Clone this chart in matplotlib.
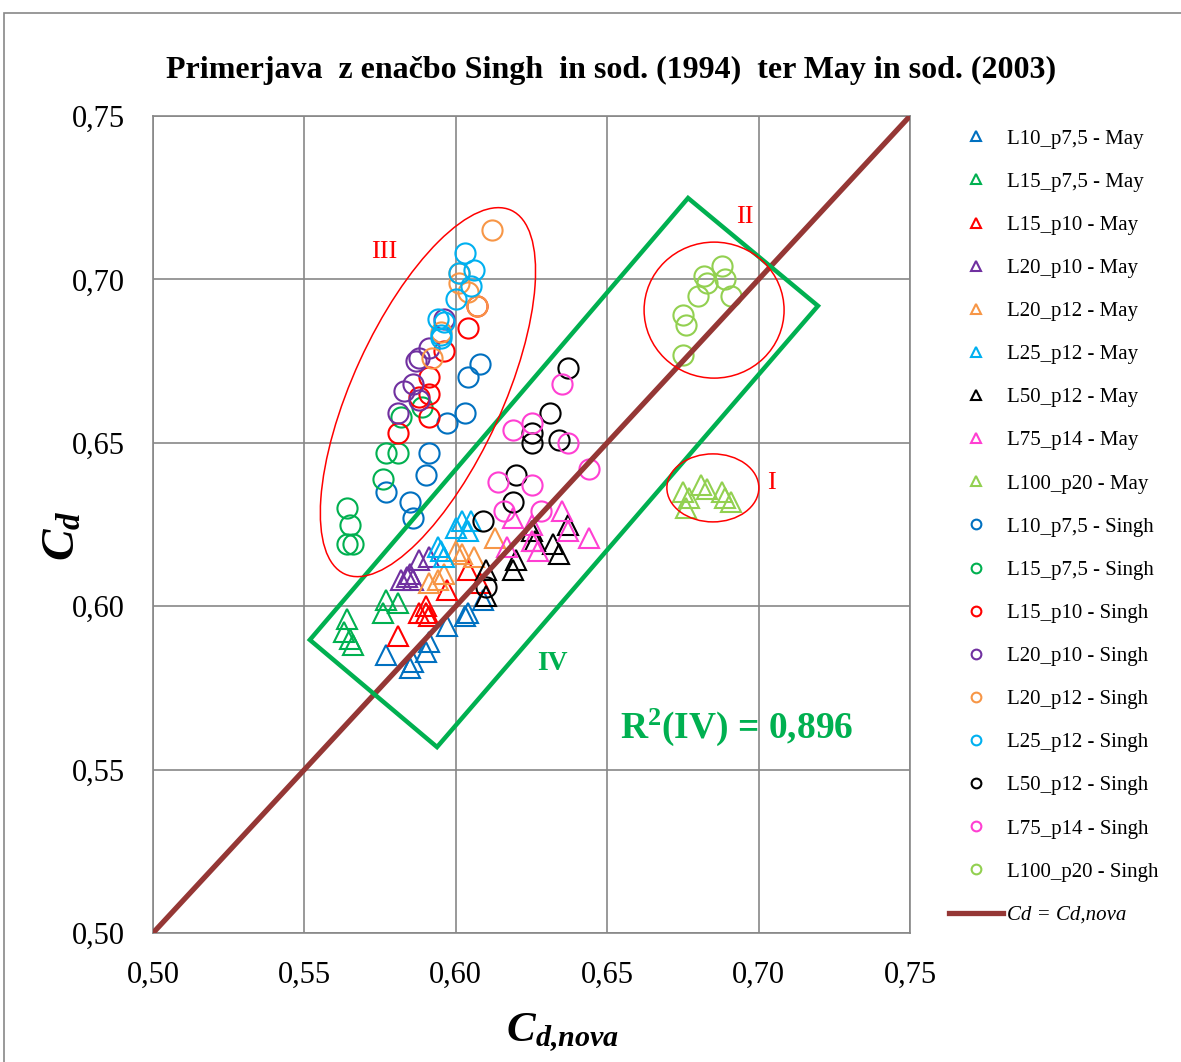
import matplotlib
matplotlib.use('Agg')
import matplotlib.pyplot as plt
import matplotlib.transforms as mtransforms
from matplotlib.patches import Ellipse, Rectangle, Polygon
from matplotlib.lines import Line2D

plt.rcParams['font.family'] = ['Liberation Serif', 'DejaVu Serif']
plt.rcParams['mathtext.fontset'] = 'custom'
plt.rcParams['mathtext.rm'] = 'Liberation Serif'
plt.rcParams['mathtext.it'] = 'Liberation Serif:italic'
plt.rcParams['mathtext.bf'] = 'Liberation Serif:bold'
plt.rcParams['mathtext.bfit'] = 'Liberation Serif:italic:bold'

# ---- data: (Cd,nova, Cd) per series ----
may_L10_p7_5 = ([0.577, 0.585, 0.586, 0.590, 0.591, 0.597, 0.603, 0.604, 0.609],
                [0.585, 0.581, 0.583, 0.586, 0.589, 0.594, 0.597, 0.598, 0.602])
may_L15_p7_5 = ([0.564, 0.563, 0.565, 0.566, 0.576, 0.577, 0.581],
                [0.596, 0.592, 0.590, 0.588, 0.598, 0.602, 0.601])
may_L15_p10 = ([0.581, 0.588, 0.590, 0.591, 0.590, 0.597, 0.604, 0.608],
               [0.591, 0.598, 0.598, 0.597, 0.600, 0.605, 0.611, 0.607])
may_L20_p10 = ([0.582, 0.584, 0.585, 0.588, 0.586, 0.591],
               [0.608, 0.609, 0.610, 0.614, 0.608, 0.615])
may_L20_p12 = ([0.591, 0.594, 0.596, 0.600, 0.602, 0.606, 0.613],
               [0.607, 0.608, 0.610, 0.617, 0.616, 0.615, 0.621])
may_L25_p12 = ([0.594, 0.595, 0.596, 0.600, 0.602, 0.605, 0.604],
               [0.618, 0.617, 0.615, 0.624, 0.626, 0.626, 0.623])
may_L50_p12 = ([0.637, 0.632, 0.634, 0.625, 0.626, 0.620, 0.619, 0.610, 0.610],
               [0.625, 0.619, 0.616, 0.623, 0.620, 0.614, 0.611, 0.611, 0.603])
may_L75_p14 = ([0.635, 0.637, 0.644, 0.619, 0.625, 0.625, 0.627, 0.617],
               [0.629, 0.623, 0.621, 0.627, 0.625, 0.620, 0.617, 0.618])
may_L100_p20 = ([0.675, 0.677, 0.676, 0.681, 0.683, 0.688, 0.689, 0.691],
                [0.635, 0.633, 0.630, 0.637, 0.636, 0.635, 0.633, 0.632])

singh_L10_p7_5 = ([0.608, 0.604, 0.603, 0.597, 0.591, 0.590, 0.585, 0.586, 0.577],
                  [0.674, 0.670, 0.659, 0.656, 0.647, 0.640, 0.632, 0.627, 0.635])
singh_L15_p7_5 = ([0.577, 0.581, 0.576, 0.564, 0.565, 0.564, 0.566, 0.582, 0.589],
                  [0.647, 0.647, 0.639, 0.630, 0.625, 0.619, 0.619, 0.658, 0.661])
singh_L15_p10 = ([0.607, 0.604, 0.596, 0.591, 0.591, 0.588, 0.591, 0.581],
                 [0.692, 0.685, 0.678, 0.670, 0.665, 0.664, 0.658, 0.653])
singh_L20_p10 = ([0.596, 0.588, 0.587, 0.591, 0.583, 0.586, 0.588, 0.581],
                 [0.688, 0.676, 0.675, 0.679, 0.666, 0.668, 0.663, 0.659])
singh_L20_p12 = ([0.612, 0.601, 0.601, 0.604, 0.607, 0.595, 0.592],
                 [0.715, 0.702, 0.699, 0.696, 0.692, 0.684, 0.676])
singh_L25_p12 = ([0.603, 0.606, 0.601, 0.605, 0.600, 0.594, 0.596, 0.595, 0.595],
                 [0.708, 0.703, 0.702, 0.698, 0.694, 0.688, 0.687, 0.683, 0.682])
singh_L50_p12 = ([0.637, 0.631, 0.625, 0.625, 0.634, 0.620, 0.619, 0.609, 0.610],
                 [0.673, 0.659, 0.653, 0.650, 0.651, 0.640, 0.632, 0.626, 0.606])
singh_L75_p14 = ([0.635, 0.625, 0.619, 0.637, 0.644, 0.614, 0.625, 0.616, 0.628],
                 [0.668, 0.656, 0.654, 0.650, 0.642, 0.638, 0.637, 0.629, 0.629])
singh_L100_p20 = ([0.688, 0.682, 0.683, 0.689, 0.691, 0.680, 0.675, 0.676, 0.675],
                  [0.704, 0.701, 0.699, 0.700, 0.695, 0.695, 0.689, 0.686, 0.677])

names = ['L10_p7,5', 'L15_p7,5', 'L15_p10', 'L20_p10', 'L20_p12',
         'L25_p12', 'L50_p12', 'L75_p14', 'L100_p20']
colors = ['#0070C0', '#00B050', '#FF0000', '#7030A0', '#F79646',
          '#00B0F0', '#000000', '#FF3FD2', '#92D050']
may = [may_L10_p7_5, may_L15_p7_5, may_L15_p10, may_L20_p10, may_L20_p12,
       may_L25_p12, may_L50_p12, may_L75_p14, may_L100_p20]
singh = [singh_L10_p7_5, singh_L15_p7_5, singh_L15_p10, singh_L20_p10, singh_L20_p12,
         singh_L25_p12, singh_L50_p12, singh_L75_p14, singh_L100_p20]

# annotation shapes (data coords)
box_IV = [(0.5518, 0.5897), (0.5938, 0.5569), (0.7196, 0.6919), (0.6767, 0.7249)]

W, H = 1181, 1062
fig = plt.figure(figsize=(W / 100, H / 100), dpi=100)
ax = fig.add_axes([153 / W, 1 - 933 / H, 757 / W, 817 / H])

grid_c = '#878787'
ax.set_xlim(0.5, 0.75)
ax.set_ylim(0.5, 0.75)
ticks = [0.50, 0.55, 0.60, 0.65, 0.70, 0.75]
ax.set_xticks(ticks)
ax.set_yticks(ticks)
ax.set_xticklabels([('%.2f' % t).replace('.', ',') for t in ticks])
ax.set_yticklabels([('%.2f' % t).replace('.', ',') for t in ticks])
ax.tick_params(axis='both', length=0, labelsize=22)
ax.tick_params(axis='x', pad=20)
ax.tick_params(axis='y', pad=20)
ax.grid(True, color=grid_c, lw=1.2)
ax.set_axisbelow(True)
for s in ax.spines.values():
    s.set_color(grid_c)
    s.set_linewidth(1.2)

handles = []
labels = []
for nm, c, (xs, ys) in zip(names, colors, may):
    ax.plot(xs, ys, ls='none', marker='^', ms=14, mfc='none', mec=c, mew=1.5)
    handles.append(Line2D([], [], ls='none', marker='^', ms=7, mfc='none', mec=c, mew=1.5))
    labels.append(nm + ' - May')
for nm, c, (xs, ys) in zip(names, colors, singh):
    ax.plot(xs, ys, ls='none', marker='o', ms=14.5, mfc='none', mec=c, mew=1.5)
    handles.append(Line2D([], [], ls='none', marker='o', ms=7, mfc='none', mec=c, mew=1.5))
    labels.append(nm + ' - Singh')

ax.plot([0.5, 0.75], [0.5, 0.75], color='#953735', lw=3.8, zorder=4)
handles.append(Line2D([], [], color='#953735', lw=3.8))
labels.append('Cd = Cd,nova')

# shapes
ax.add_patch(Polygon(box_IV, closed=True, fill=False, ec='#00B050', lw=3.2, zorder=5))


def ell(cx, cy, w_px, h_px, ang):
    tr = fig.dpi_scale_trans + mtransforms.ScaledTranslation(cx, cy, ax.transData)
    return Ellipse((0, 0), w_px / 100, h_px / 100, angle=ang, transform=tr,
                   fill=False, ec='#FF0000', lw=1.1, zorder=5)


ax.add_patch(ell(0.5908, 0.6655, 400, 150, 65.4))
ax.add_patch(ell(0.6853, 0.6906, 140, 136, 0))
ax.add_patch(ell(0.6849, 0.6362, 92, 68, 0))

ax.text(0.5763, 0.7084, 'III', color='#FF0000', fontsize=19, ha='center', va='center')
ax.text(0.6955, 0.7191, 'II', color='#FF0000', fontsize=19, ha='center', va='center')
ax.text(0.7044, 0.6377, 'I', color='#FF0000', fontsize=19, ha='center', va='center')
ax.text(0.6318, 0.5826, 'IV', color='#00B050', fontsize=20, fontweight='bold',
        ha='center', va='center')
ax.text(0.6929, 0.5630, r'R$^{\mathbf{2}}$(IV) = 0,896', color='#00B050', fontsize=27,
        fontweight='bold', ha='center', va='center')

leg = ax.legend(handles, labels, loc='upper left', bbox_to_anchor=(949 / W, 1 - 129 / H),
                bbox_transform=fig.transFigure, frameon=False, fontsize=15,
                labelspacing=1.13, handlelength=2.6, handletextpad=0.2,
                borderpad=0, borderaxespad=0)
leg.get_texts()[-1].set_fontstyle('italic')

fig.text(611 / W, 1 - 70 / H,
         'Primerjava  z enačbo Singh  in sod. (1994)  ter May in sod. (2003)',
         fontsize=23, fontweight='bold', ha='center', va='center')
fig.text(63 / W, 1 - 536 / H, r'$\mathbfit{C}_{\mathbfit{d}}$', fontsize=34,
         rotation=90, ha='center', va='center')
fig.text(563 / W, 1 - 1033 / H, r'$\mathbfit{C}_{\mathbfit{d{,}nova}}$', fontsize=31,
         ha='center', va='center')

fig.patches.append(Rectangle((4 / W, -0.05), 1.2, 1.05 - 13 / H, transform=fig.transFigure,
                             fill=False, ec=grid_c, lw=1.2))

fig.savefig('out.png', dpi=100)
